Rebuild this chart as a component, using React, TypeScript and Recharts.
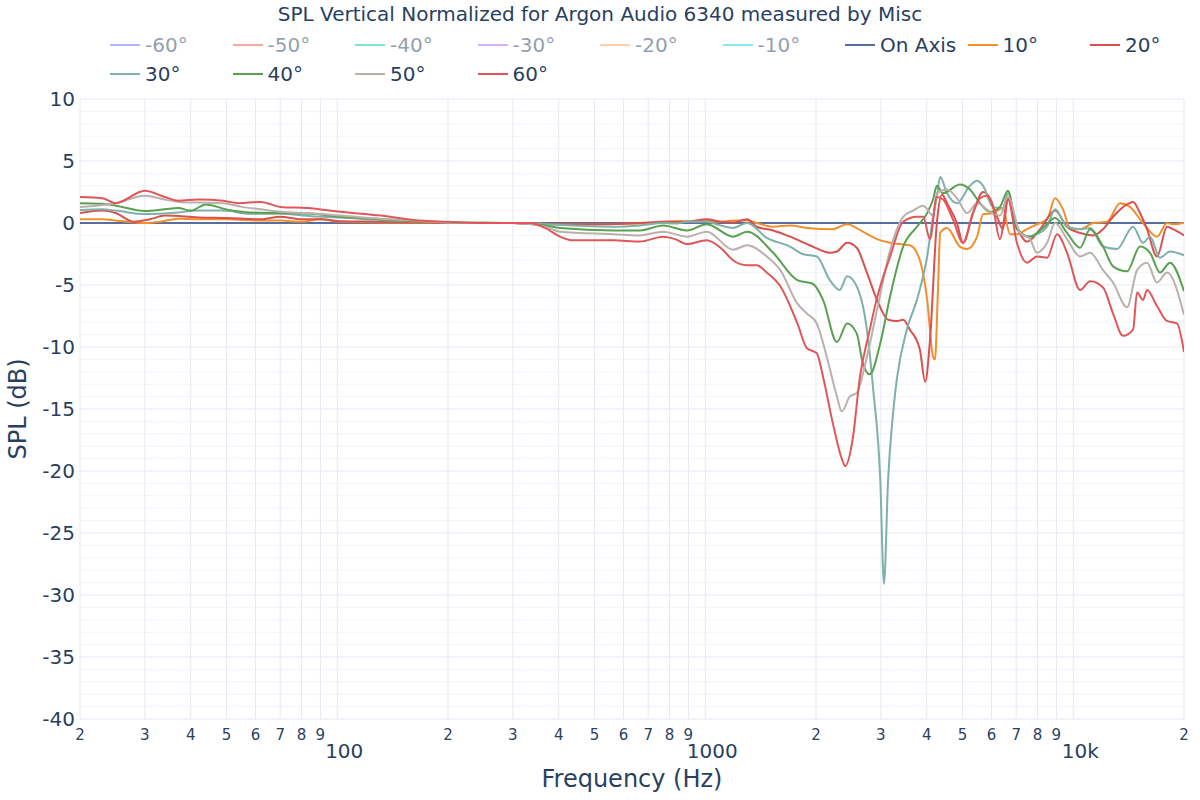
import { LineChart, Line, XAxis, YAxis, CartesianGrid, Label } from "recharts";

const FONT = '"DejaVu Sans", Verdana, sans-serif';
const INK = "#2a3f5f";

// frequency ticks (log axis) and dB ticks
const xTicks = [
  20, 30, 40, 50, 60, 70, 80, 90, 100, 200, 300, 400, 500, 600, 700, 800, 900,
  1000, 2000, 3000, 4000, 5000, 6000, 7000, 8000, 9000, 10000, 20000,
];
const yTicks = [-40, -35, -30, -25, -20, -15, -10, -5, 0, 5, 10];
const yMinor = [
  -39, -38, -37, -36, -34, -33, -32, -31, -29, -28, -27, -26, -24, -23, -22, -21,
  -19, -18, -17, -16, -14, -13, -12, -11, -9, -8, -7, -6, -4, -3, -2, -1, 1, 2,
  3, 4, 6, 7, 8, 9,
];

// [frequency Hz, SPL dB]
const onAxis: [number, number][] = [[20, 0], [20000, 0]];

const deg10: [number, number][] = [
  [20, 0.3], [23, 0.3], [25, 0.2], [27, 0.1], [30, 0.0], [33, 0.1], [37, 0.35],
  [42, 0.3], [50, 0.3], [62, 0.2], [70, 0.2], [80, 0.1], [90, 0.3], [102, 0.1],
  [131, 0.05], [200, 0], [300, 0], [400, -0.1], [500, -0.1], [665, -0.05],
  [768, 0.1], [890, 0.15], [1010, 0.2], [1100, 0.1], [1190, 0.2], [1300, 0.2],
  [1380, 0.0], [1530, -0.3], [1700, -0.2], [1890, -0.4], [2220, -0.5],
  [2430, -0.1], [2680, -0.7], [2930, -1.3], [3180, -1.6], [3380, -1.7],
  [3600, -1.8], [3830, -3.0], [4010, -6.2], [4160, -10.8], [4210, -11.0],
  [4290, -5.4], [4350, -0.8], [4540, -0.4], [4920, -1.9], [5150, -2.1],
  [5480, -1.1], [5690, 0.7], [6050, 0.8], [6440, 1.2], [6730, -0.9],
  [7030, -0.9], [7490, -0.5], [7970, -0.1], [8490, 0.3], [8930, 2.0],
  [9380, 1.1], [9800, -0.4], [10440, -0.5], [11320, 0], [12360, 0.1],
  [13400, 1.6], [14270, 1.3], [15190, 0.3], [15870, -0.4], [16890, -1.1],
  [17990, 0.0], [18670, -0.1], [20000, 0],
];

const deg20: [number, number][] = [
  [20, 0.8], [23, 1.0], [25, 0.8], [28, 0.1], [31, 0.3], [34, 0.6], [42, 0.45],
  [50, 0.4], [62, 0.3], [70, 0.5], [80, 0.3], [90, 0.3], [102, 0.15],
  [131, 0.1], [160, 0.05], [200, 0], [300, 0], [400, -0.1], [500, -0.1],
  [665, 0], [768, 0.1], [890, 0.1], [1010, 0.3], [1100, 0.1], [1190, 0.05],
  [1300, 0.3], [1380, -0.3], [1530, -0.6], [1700, -1.1], [1960, -1.9],
  [2180, -2.4], [2280, -2.3], [2430, -1.6], [2580, -2.0], [2750, -4.0],
  [2930, -6.2], [3140, -7.8], [3320, -7.9], [3450, -7.8], [3600, -8.6],
  [3830, -10.2], [3960, -12.8], [4080, -9.5], [4260, 0], [4400, 2.3],
  [4540, 1.6], [4830, 0], [5020, -1.6], [5340, 0.8], [5690, 2.5], [5940, 2.0],
  [6210, 0.5], [6440, -0.5], [6650, 2.0], [7030, -0.3], [7490, -1.5],
  [8130, -0.5], [8930, 1.0], [9620, -0.3], [10440, -0.8], [11320, -1.0],
  [12050, -0.5], [12830, 0.5], [14000, 1.5], [14540, 1.7], [15190, 0.8],
  [15870, -0.5], [16890, -2.7], [17990, -0.3], [18670, -0.5], [20000, -1.0],
];

const deg30: [number, number][] = [
  [20, 1.05], [23, 1.1], [25, 1.0], [30, 0.72], [37, 0.85], [42, 1.0],
  [49, 1.0], [58, 0.75], [70, 0.75], [85, 0.55], [102, 0.45], [131, 0.25],
  [160, 0.15], [200, 0.05], [300, 0], [367, -0.1], [437, -0.2], [562, -0.3],
  [665, -0.2], [768, 0], [828, -0.05], [892, 0.1], [1010, 0.1], [1100, -0.2],
  [1190, -0.4], [1300, 0], [1470, -1.2], [1700, -1.9], [1840, -2.5],
  [2010, -2.7], [2180, -4.6], [2320, -5.4], [2430, -4.3], [2580, -5.1],
  [2750, -8.6], [2860, -13.4], [2990, -20.7], [3060, -29.1], [3140, -20.7],
  [3240, -15.3], [3320, -12.5], [3530, -8.6], [3760, -6.2], [4010, -2.7],
  [4160, 0.5], [4260, 2.1], [4350, 3.7], [4540, 2.4], [4830, 1.6], [5240, 3.0],
  [5480, 3.4], [5690, 3.0], [6050, 1.3], [6440, 1.2], [6650, 2.4],
  [7030, -0.3], [7490, -1.1], [7970, -0.9], [8490, -0.3], [8930, 1.1],
  [9620, -0.3], [10440, -0.5], [11110, -0.4], [12050, -1.9], [13150, -2.1],
  [14540, -0.3], [15480, -1.6], [16170, -1.1], [17210, -2.8], [18320, -2.3],
  [20000, -2.6],
];

const deg40: [number, number][] = [
  [20, 1.6], [23, 1.55], [25, 1.4], [30, 0.97], [34, 1.1], [37, 1.2],
  [40, 1.0], [44, 1.5], [50, 1.1], [58, 0.85], [70, 0.8], [85, 0.75],
  [102, 0.5], [131, 0.3], [160, 0.15], [200, 0.05], [300, 0], [367, -0.2],
  [403, -0.4], [562, -0.6], [665, -0.6], [768, -0.2], [892, -0.6],
  [1010, -0.1], [1190, -1.1], [1300, -0.7], [1530, -2.4], [1780, -4.6],
  [1960, -4.9], [2090, -6.2], [2280, -9.6], [2430, -8.1], [2580, -8.9],
  [2680, -11.3], [2800, -12.2], [2990, -9.7], [3180, -5.9], [3450, -1.9],
  [3760, -0.3], [4010, 0.8], [4160, 1.9], [4260, 3.0], [4430, 2.4],
  [4920, 3.1], [5240, 2.7], [5580, 1.6], [5940, 0.9], [6320, 1.3], [6650, 2.6],
  [7030, -0.5], [7630, -1.1], [8280, -0.4], [8930, 0.4], [9620, -0.8],
  [10440, -2.0], [11110, -0.5], [12050, -1.9], [12830, -3.5], [14000, -3.9],
  [15190, -1.9], [16170, -2.4], [17210, -4.0], [18320, -3.2], [20000, -5.5],
];

const deg50: [number, number][] = [
  [20, 1.3], [25, 1.6], [30, 2.2], [34, 1.9], [37, 1.7], [42, 1.65],
  [49, 1.6], [55, 1.3], [62, 1.1], [70, 0.9], [83, 0.8], [102, 0.6],
  [131, 0.35], [160, 0.2], [200, 0.05], [300, 0], [367, -0.3], [403, -0.7],
  [562, -0.9], [665, -1.0], [768, -0.7], [892, -1.1], [1010, -0.7],
  [1190, -2.15], [1300, -1.8], [1470, -2.7], [1600, -3.8], [1780, -6.5],
  [1890, -7.3], [2010, -8.1], [2140, -10.8], [2280, -14.0], [2350, -15.2],
  [2470, -14.0], [2580, -13.7], [2750, -10.8], [2930, -7.0], [3180, -2.2],
  [3450, 0.5], [3670, 1.0], [3910, 1.4], [4160, 0.6], [4260, 2.4], [4540, 2.7],
  [4830, 2.0], [5150, 0.8], [5480, 1.6], [5940, 0.9], [6320, 0.6], [6650, 2.1],
  [7170, -0.8], [7630, -1.3], [7970, -2.4], [8490, -1.6], [8930, 0],
  [9620, -1.3], [10440, -2.7], [11110, -2.4], [12050, -3.8], [12830, -4.8],
  [14000, -6.8], [14910, -3.8], [15870, -3.2], [16890, -4.8], [17990, -4.0],
  [20000, -7.4],
];

const deg60: [number, number][] = [
  [20, 2.1], [23, 2.0], [25, 1.6], [30, 2.6], [34, 2.1], [37, 1.8], [42, 1.9],
  [49, 1.8], [54, 1.6], [62, 1.7], [70, 1.3], [83, 1.2], [102, 0.9],
  [131, 0.6], [161, 0.25], [200, 0.1], [244, 0], [334, 0], [367, -0.4],
  [403, -1.1], [437, -1.4], [486, -1.4], [562, -1.4], [665, -1.5],
  [768, -1.1], [828, -1.3], [892, -1.7], [1010, -1.4], [1100, -2.0],
  [1190, -3.0], [1240, -3.3], [1300, -3.4], [1380, -3.4], [1470, -4.0],
  [1600, -5.1], [1780, -8.1], [1890, -10.1], [2010, -10.5], [2090, -12.4],
  [2220, -16.1], [2350, -19.0], [2400, -19.6], [2520, -17.3], [2630, -12.5],
  [2800, -8.6], [2920, -6.2], [3180, -2.7], [3450, 0.1], [3760, 0.5],
  [3910, 0.5], [4080, -1.3], [4260, 2.1], [4430, 1.9], [4710, 0.3],
  [5020, -1.6], [5340, 0.8], [5580, 2.0], [5830, 2.2], [6050, 1.3],
  [6320, -1.3], [6650, 1.9], [7030, -1.6], [7490, -3.2], [7970, -2.7],
  [8490, -2.8], [9040, -0.9], [9620, -2.4], [10440, -5.4], [11110, -4.7],
  [12050, -5.2], [12830, -7.3], [13660, -9.1], [14540, -8.6], [14910, -5.6],
  [15480, -6.2], [15870, -5.4], [16890, -6.7], [17990, -7.9], [19140, -8.1],
  [20000, -10.4],
];

type Series = { name: string; color: string; data?: [number, number][]; hidden?: boolean };

const series: Series[] = [
  { name: "-60°", color: "#636efa", hidden: true },
  { name: "-50°", color: "#ef553b", hidden: true },
  { name: "-40°", color: "#00cc96", hidden: true },
  { name: "-30°", color: "#ab63fa", hidden: true },
  { name: "-20°", color: "#ffa15a", hidden: true },
  { name: "-10°", color: "#19d3f3", hidden: true },
  { name: "On Axis", color: "#55709f", data: onAxis },
  { name: "10°", color: "#f28e2b", data: deg10 },
  { name: "20°", color: "#d9504f", data: deg20 },
  { name: "30°", color: "#7fb0aa", data: deg30 },
  { name: "40°", color: "#59a14f", data: deg40 },
  { name: "50°", color: "#bab0ac", data: deg50 },
  { name: "60°", color: "#e15759", data: deg60 },
];

const majors: Record<number, string> = { 100: "100", 1000: "1000", 10000: "10k" };

function FreqTick(props: any) {
  const { x, y, payload } = props;
  const v = payload.value as number;
  if (majors[v]) {
    return (
      <text x={x + 7} y={y + 37} textAnchor="middle" fill={INK} fontSize={20} fontFamily={FONT}>
        {majors[v]}
      </text>
    );
  }
  const digit = String(v)[0];
  return (
    <text x={x} y={y + 19} textAnchor="middle" fill={INK} fontSize={15} fontFamily={FONT}>
      {digit}
    </text>
  );
}

function LegendBox() {
  return (
    <>
      {series.map((s, i) => {
        const row = i < 9 ? 0 : 1;
        const col = i < 9 ? i : i - 9;
        const left = 110 + col * 122.5;
        const top = row === 0 ? 45 : 74;
        return (
          <div key={s.name} style={{ position: "absolute", left, top: top - 13, height: 26, display: "flex", alignItems: "center", opacity: s.hidden ? 0.5 : 1 }}>
            <div style={{ width: 30, height: 2, background: s.color }} />
            <span style={{ marginLeft: 5, fontSize: 20, color: INK, whiteSpace: "nowrap" }}>{s.name}</span>
          </div>
        );
      })}
    </>
  );
}

export default function App() {
  return (
    <div style={{ position: "absolute", left: 0, top: 0, width: 1200, height: 800, background: "#fff", fontFamily: FONT }}>
      <div style={{ position: "absolute", left: 0, top: 2, width: 1200, textAlign: "center", fontSize: 20, color: INK }}>
        SPL Vertical Normalized for Argon Audio 6340 measured by Misc
      </div>
      <LegendBox />
      <LineChart width={1200} height={800} margin={{ top: 99, right: 16, bottom: 11, left: 20 }}>
        <CartesianGrid stroke="#f1f4f9" vertical={false} horizontalValues={yMinor} />
        <CartesianGrid stroke="#e4e9f2" />
        <XAxis
          dataKey="f"
          type="number"
          scale="log"
          domain={[20, 20000]}
          ticks={xTicks}
          interval={0}
          tick={<FreqTick />}
          tickLine={false}
          axisLine={false}
          tickSize={0}
          height={70}
          allowDataOverflow
        >
          <Label value="Frequency (Hz)" position="insideBottom" offset={2} fill={INK} fontSize={24} fontFamily={FONT} />
        </XAxis>
        <YAxis
          type="number"
          domain={[-40, 10]}
          ticks={yTicks}
          interval={0}
          tickLine={false}
          axisLine={false}
          tickSize={0}
          tickMargin={5}
          width={60}
          tick={{ fill: INK, fontSize: 20, fontFamily: FONT }}
          allowDataOverflow
        >
          <Label value="SPL (dB)" angle={-90} position="insideLeft" offset={-3} fill={INK} fontSize={24} fontFamily={FONT} style={{ textAnchor: "middle" }} />
        </YAxis>
        {series
          .filter((s) => !s.hidden)
          .map((s) => (
            <Line
              key={s.name}
              data={s.data!.map(([f, v]) => ({ f, v }))}
              dataKey="v"
              name={s.name}
              type="monotone"
              stroke={s.color}
              strokeWidth={2}
              dot={false}
              isAnimationActive={false}
            />
          ))}
      </LineChart>
    </div>
  );
}
